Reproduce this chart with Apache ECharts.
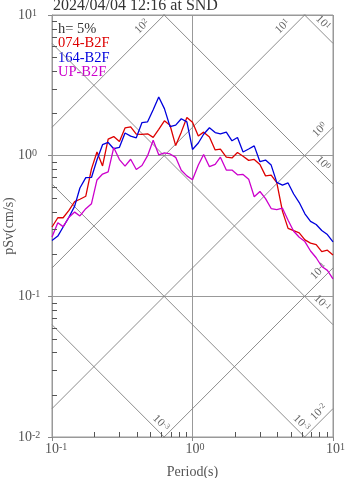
<!DOCTYPE html>
<html><head><meta charset="utf-8">
<script src="https://cdn.jsdelivr.net/npm/echarts@6/dist/echarts.min.js"></script>
<style>html,body{margin:0;padding:0;background:#fff}#c{width:347px;height:478px}</style>
</head><body><div id="c"></div>
<script>
// ---- data ----
const title = '2024/04/04 12:16 at SND';
const damping = 'h= 5%';
const seriesNames = ['074-B2F', '164-B2F', 'UP-B2F'];
const seriesColors = ['#dd0000', '#0000dd', '#cc00cc'];
const periods = [0.1,0.11,0.12,0.132,0.145,0.158,0.174,0.191,0.209,0.229,0.251,0.275,0.302,0.331,0.363,0.398,0.437,0.479,0.525,0.575,0.631,0.692,0.759,0.832,0.912,1.0,1.10,1.20,1.32,1.45,1.58,1.74,1.91,2.09,2.29,2.51,2.75,3.02,3.31,3.63,3.98,4.37,4.79,5.25,5.75,6.31,6.92,7.59,8.32,9.12,10.0];
const sv074 = [0.311,0.362,0.362,0.408,0.472,0.490,0.515,0.805,1.062,0.845,1.312,1.367,1.26,1.574,1.60,1.425,1.416,1.43,1.349,1.538,1.77,1.644,1.18,1.47,1.87,1.725,1.378,1.47,1.358,1.098,1.114,0.976,0.963,1.054,0.99,0.926,0.94,0.865,0.718,0.726,0.643,0.402,0.304,0.293,0.283,0.252,0.239,0.233,0.208,0.213,0.197];
const sv164 = [0.249,0.268,0.311,0.365,0.438,0.589,0.698,0.700,0.935,1.197,1.241,1.12,1.146,1.45,1.378,1.34,1.72,1.74,2.12,2.61,2.16,1.61,1.65,1.83,1.74,1.107,1.23,1.42,1.58,1.46,1.43,1.47,1.276,1.345,1.062,1.116,1.174,0.906,0.931,0.857,0.646,0.617,0.640,0.534,0.464,0.386,0.341,0.324,0.294,0.275,0.244];
const svUP = [0.264,0.334,0.313,0.365,0.397,0.373,0.42,0.456,0.672,0.74,0.766,1.142,0.938,0.842,0.943,0.798,0.851,1.0,1.285,1.015,1.045,1.028,0.973,0.787,0.718,0.675,0.859,1.02,0.835,0.867,0.976,0.79,0.79,0.731,0.735,0.681,0.511,0.556,0.495,0.421,0.414,0.423,0.347,0.290,0.263,0.245,0.21,0.188,0.163,0.153,0.133];
// tripartite guide lines: constant pseudo acceleration (cm/s^2) and displacement (cm)
const saLevels = [0.01, 0.1, 1, 10, 100];
const saLabels = ['-2', '-1', '0', '1', '2'];
const sdLevels = [0.001, 0.01, 0.1, 1, 10];
const sdLabels = ['-3', '-3', '-1', '0', '1'];
const xMin = 0.1, xMax = 10, yMin = 0.01, yMax = 10;
const xMinorTicks = [0.2,0.3,0.4,0.5,0.6,0.7,0.8,0.9,2,3,4,5,6,7,8,9];
const yMinorTicks = [0.02,0.03,0.04,0.05,0.06,0.07,0.08,0.09,0.2,0.3,0.4,0.5,0.6,0.7,0.8,0.9,2,3,4,5,6,7,8,9];

// ---- chart ----
const F = '"Liberation Serif","DejaVu Serif",serif';
const TWO_PI = 2 * Math.PI;
const chart = echarts.init(document.getElementById('c'), null, {renderer: 'canvas'});

const guideSeries = [];
saLevels.forEach(sa => guideSeries.push({
  type: 'line', silent: true, symbol: 'none', clip: true, animation: false, z: 1,
  lineStyle: {color: '#808080', width: 0.9},
  data: [[xMin, sa * xMin / TWO_PI], [xMax, sa * xMax / TWO_PI]]
}));
sdLevels.forEach(sd => guideSeries.push({
  type: 'line', silent: true, symbol: 'none', clip: true, animation: false, z: 1,
  lineStyle: {color: '#808080', width: 0.9},
  data: [[xMin, TWO_PI * sd / xMin], [xMax, TWO_PI * sd / xMax]]
}));

// decoration items: [T, Sv, kind, index, exitType]
// kind 0: Sa-line label, 1: Sd-line label, 2: x minor tick, 3: y minor tick
const decoData = [];
saLevels.forEach((sa, i) => {
  const tTop = TWO_PI * yMax / sa;
  if (tTop <= xMax) decoData.push([tTop, yMax, 0, i, 0]);
  else decoData.push([xMax, sa * xMax / TWO_PI, 0, i, 1]);
});
sdLevels.forEach((sd, i) => {
  const tBot = TWO_PI * sd / yMin;
  if (tBot <= xMax) decoData.push([tBot, yMin, 1, i, 2]);
  else decoData.push([xMax, TWO_PI * sd / xMax, 1, i, 1]);
});
xMinorTicks.forEach((t, i) => decoData.push([t, yMin, 2, i, 0]));
yMinorTicks.forEach((s, i) => decoData.push([xMin, s, 3, i, 0]));

function supRich(base, sup, col) {
  return {
    b: {fontSize: base, fontFamily: F, color: col, fill: col},
    s: {fontSize: sup, fontFamily: F, color: col, fill: col, verticalAlign: 'top'},
    p: {fontSize: sup, fontFamily: F, color: 'transparent', fill: 'transparent', verticalAlign: 'top'}
  };
}

const decoSeries = {
  type: 'custom', coordinateSystem: 'cartesian2d', silent: true, clip: false, animation: false, z: 10,
  encode: {x: 0, y: 1},
  data: decoData,
  renderItem: function (params, api) {
    const E = api.coord([api.value(0), api.value(1)]);
    const kind = api.value(2), idx = api.value(3), ex = api.value(4);
    if (kind === 2) {
      return {type: 'rect', shape: {x: Math.round(E[0]), y: Math.round(E[1]) - 5, width: 1, height: 5}, style: {fill: '#555'}};
    }
    if (kind === 3) {
      return {type: 'rect', shape: {x: Math.round(E[0]), y: Math.round(E[1]), width: 5, height: 1}, style: {fill: '#555'}};
    }
    const r = Math.SQRT1_2;
    let u, n, rot, k;
    if (kind === 0) { u = [-r, r]; n = [-r, -r]; rot = Math.PI / 4; k = ex === 0 ? 16 : 3.5; }
    else { u = [-r, -r]; n = [r, -r]; rot = -Math.PI / 4; k = ex === 1 ? 14 : 3; }
    const gap = 1.5;
    const lab = kind === 0 ? saLabels[idx] : sdLabels[idx];
    return {
      type: 'text', x: E[0] + u[0] * k + n[0] * gap, y: E[1] + u[1] * k + n[1] * gap, rotation: rot,
      style: {
        text: '{b|10}{s|' + lab + '}', rich: supRich(11.5, 8, '#666'),
        align: 'right', verticalAlign: 'bottom', textAlign: 'right', textVerticalAlign: 'bottom'
      }
    };
  }
};

const dataSeries = [sv074, sv164, svUP].map((arr, i) => ({
  name: seriesNames[i], type: 'line', symbol: 'none', showSymbol: false, clip: true, animation: false, z: 5 + i,
  lineStyle: {color: seriesColors[i], width: 1.3},
  data: periods.map((t, j) => [t, arr[j]])
}));

function expOf(v) { return Math.round(Math.log10(v)); }

const option = {
  animation: false,
  backgroundColor: '#fff',
  grid: {left: 52, right: 14, top: 15, bottom: 41, show: true, borderColor: '#999', borderWidth: 1,
         backgroundColor: '#fff', containLabel: false, outerBoundsMode: 'none'},
  xAxis: {
    type: 'log', logBase: 10, min: xMin, max: xMax,
    name: 'Period(s)', nameLocation: 'middle', nameGap: 28, nameMoveOverlap: false,
    nameTextStyle: {fontFamily: F, fontSize: 14, color: '#555'},
    axisLine: {show: true, lineStyle: {color: '#999', width: 1}},
    axisTick: {show: true, inside: false, length: 4, lineStyle: {color: '#888'}},
    minorTick: {show: false},
    splitLine: {show: true, lineStyle: {color: '#999', width: 1}},
    axisLabel: {
      show: true, margin: 5, showMinLabel: true, showMaxLabel: true,
      formatter: v => { const e = expOf(v); return '{p|' + e + '}{b|10}{s|' + e + '}'; },
      rich: supRich(14, 10, '#555')
    }
  },
  yAxis: {
    type: 'log', logBase: 10, min: yMin, max: yMax,
    name: 'pSv(cm/s)', nameLocation: 'middle', nameGap: 36, nameMoveOverlap: false,
    nameTextStyle: {fontFamily: F, fontSize: 14, color: '#555'},
    axisLine: {show: true, lineStyle: {color: '#999', width: 1}},
    axisTick: {show: true, inside: false, length: 4, lineStyle: {color: '#888'}},
    minorTick: {show: false},
    splitLine: {show: true, lineStyle: {color: '#999', width: 1}},
    axisLabel: {
      show: true, margin: 34, align: 'left', showMinLabel: true, showMaxLabel: true,
      formatter: v => '{b|10}{s|' + expOf(v) + '}',
      rich: supRich(14, 10, '#555')
    }
  },
  graphic: [
    {type: 'text', left: 53, top: -2, style: {text: title, font: '16px ' + F, fill: '#333'}},
    {type: 'text', x: 58, y: 29, style: {text: damping, font: '14.5px ' + F, fill: '#333', verticalAlign: 'middle', textVerticalAlign: 'middle'}},
    {type: 'text', x: 58, y: 43.5, style: {text: seriesNames[0], font: '14.5px ' + F, fill: seriesColors[0], verticalAlign: 'middle', textVerticalAlign: 'middle'}},
    {type: 'text', x: 58, y: 58, style: {text: seriesNames[1], font: '14.5px ' + F, fill: seriesColors[1], verticalAlign: 'middle', textVerticalAlign: 'middle'}},
    {type: 'text', x: 58, y: 72.5, style: {text: seriesNames[2], font: '14.5px ' + F, fill: seriesColors[2], verticalAlign: 'middle', textVerticalAlign: 'middle'}}
  ],
  series: [...guideSeries, decoSeries, ...dataSeries]
};
chart.setOption(option);
</script></body></html>
